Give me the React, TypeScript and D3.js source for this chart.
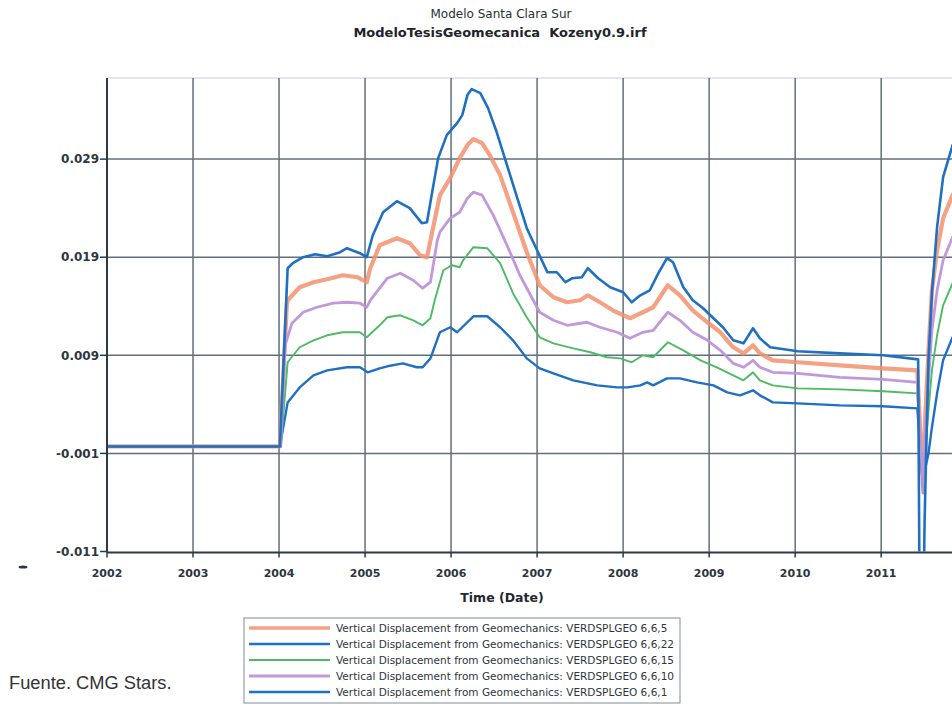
import React from "react";
import * as d3 from "d3";

// Time axis (decimal years) and vertical displacement ticks
const yearTicks = [2002, 2003, 2004, 2005, 2006, 2007, 2008, 2009, 2010, 2011];
const displacementTicks = [0.029, 0.019, 0.009, -0.001, -0.011];

// VERDSPLGEO 6,6,1
const layer1: [number, number][] = [
  [2002.0, -0.00029], [2004.01, -0.00029], [2004.1, 0.01788], [2004.16, 0.01839], [2004.28, 0.019],
  [2004.42, 0.01931], [2004.56, 0.0191], [2004.71, 0.01951], [2004.79, 0.01992], [2004.94, 0.01941],
  [2005.02, 0.019], [2005.09, 0.02124], [2005.21, 0.02359], [2005.37, 0.02471], [2005.52, 0.024],
  [2005.66, 0.02247], [2005.72, 0.02257], [2005.78, 0.02563], [2005.85, 0.0291], [2005.95, 0.03145],
  [2006.07, 0.03267], [2006.13, 0.03349], [2006.19, 0.03553], [2006.24, 0.03614], [2006.34, 0.03573],
  [2006.43, 0.0342], [2006.53, 0.03176], [2006.65, 0.02839], [2006.77, 0.02502], [2006.88, 0.02196],
  [2007.0, 0.01971], [2007.12, 0.01747], [2007.23, 0.01747], [2007.33, 0.01645], [2007.41, 0.01686],
  [2007.52, 0.01696], [2007.59, 0.01788], [2007.71, 0.01686], [2007.85, 0.01594], [2008.0, 0.01543],
  [2008.1, 0.01441], [2008.2, 0.01512], [2008.31, 0.01563], [2008.41, 0.01737], [2008.51, 0.0189],
  [2008.58, 0.01849], [2008.7, 0.01594], [2008.81, 0.01461], [2008.93, 0.0138], [2009.05, 0.01278],
  [2009.16, 0.01186], [2009.28, 0.01053], [2009.4, 0.01022], [2009.51, 0.01176], [2009.59, 0.01073],
  [2009.71, 0.00982], [2010.03, 0.00941], [2010.52, 0.0092], [2011.02, 0.009], [2011.43, 0.00859],
  [2011.445, -0.014], [2011.495, -0.014], [2011.505, -0.00784], [2011.53, 0.00165], [2011.55, 0.00849],
  [2011.59, 0.01533], [2011.65, 0.02206], [2011.72, 0.02716], [2011.83, 0.03043], [2012.02, 0.03256],
];

// VERDSPLGEO 6,6,5
const layer5: [number, number][] = [
  [2002.0, -0.00029], [2004.01, -0.00029], [2004.09, 0.0141], [2004.1, 0.01461], [2004.24, 0.01594],
  [2004.4, 0.01645], [2004.56, 0.01676], [2004.74, 0.01716], [2004.91, 0.01696], [2005.02, 0.01645],
  [2005.06, 0.01788], [2005.17, 0.02022], [2005.37, 0.02094], [2005.52, 0.02043], [2005.64, 0.0192],
  [2005.72, 0.019], [2005.78, 0.02155], [2005.87, 0.02533], [2005.99, 0.02706], [2006.1, 0.0291],
  [2006.19, 0.03043], [2006.26, 0.03104], [2006.36, 0.03063], [2006.45, 0.02941], [2006.57, 0.02737],
  [2006.72, 0.02359], [2006.88, 0.01951], [2007.03, 0.01614], [2007.19, 0.01492], [2007.35, 0.01441],
  [2007.5, 0.01461], [2007.59, 0.01512], [2007.73, 0.01441], [2007.88, 0.01359], [2008.08, 0.01278],
  [2008.23, 0.01339], [2008.35, 0.0139], [2008.52, 0.01614], [2008.66, 0.01512], [2008.81, 0.01359],
  [2008.98, 0.01237], [2009.13, 0.01135], [2009.28, 0.00982], [2009.4, 0.0092], [2009.51, 0.01002],
  [2009.59, 0.0092], [2009.74, 0.00849], [2010.03, 0.00829], [2010.52, 0.00798], [2011.02, 0.00767],
  [2011.42, 0.00747], [2011.49, -0.00498], [2011.51, 0.00237], [2011.55, 0.00949], [2011.59, 0.01561],
  [2011.65, 0.01971], [2011.72, 0.02298], [2011.83, 0.02533], [2012.02, 0.02788],
];

// VERDSPLGEO 6,6,10
const layer10: [number, number][] = [
  [2002.0, -0.00029], [2004.02, -0.00029], [2004.07, 0.01002], [2004.15, 0.01227], [2004.28, 0.01339],
  [2004.44, 0.0139], [2004.63, 0.01431], [2004.79, 0.01441], [2004.94, 0.01431], [2005.02, 0.0139],
  [2005.06, 0.01461], [2005.26, 0.01686], [2005.41, 0.01737], [2005.56, 0.01665], [2005.67, 0.01584],
  [2005.76, 0.01645], [2005.84, 0.02073], [2005.87, 0.02155], [2005.99, 0.02298], [2006.1, 0.02359],
  [2006.19, 0.02502], [2006.26, 0.02563], [2006.36, 0.02533], [2006.49, 0.02329], [2006.65, 0.02022],
  [2006.8, 0.01716], [2007.03, 0.01339], [2007.19, 0.01257], [2007.35, 0.01206], [2007.58, 0.01237],
  [2007.73, 0.01186], [2007.93, 0.01135], [2008.08, 0.01073], [2008.23, 0.01135], [2008.35, 0.01155],
  [2008.52, 0.01339], [2008.66, 0.01257], [2008.81, 0.01135], [2008.98, 0.01053], [2009.13, 0.00951],
  [2009.28, 0.00818], [2009.4, 0.00778], [2009.51, 0.00849], [2009.59, 0.00778], [2009.74, 0.00727],
  [2010.03, 0.00716], [2010.52, 0.00676], [2011.02, 0.00655], [2011.42, 0.00624], [2011.49, -0.00498],
  [2011.51, 0.00033], [2011.55, 0.00645], [2011.59, 0.01155], [2011.65, 0.01561], [2011.72, 0.01869],
  [2011.83, 0.02104], [2012.02, 0.02329],
];

// VERDSPLGEO 6,6,15
const layer15: [number, number][] = [
  [2002.0, -0.00029], [2004.02, -0.00029], [2004.1, 0.00829], [2004.24, 0.00982], [2004.4, 0.01053],
  [2004.56, 0.01104], [2004.74, 0.01135], [2004.94, 0.01135], [2005.02, 0.01084], [2005.17, 0.01206],
  [2005.26, 0.01288], [2005.41, 0.01308], [2005.56, 0.01257], [2005.67, 0.01206], [2005.76, 0.01278],
  [2005.81, 0.01461], [2005.91, 0.01767], [2006.01, 0.01818], [2006.1, 0.01798], [2006.14, 0.01869],
  [2006.26, 0.02002], [2006.42, 0.01992], [2006.57, 0.01839], [2006.72, 0.01533], [2006.88, 0.01288],
  [2007.03, 0.01084], [2007.19, 0.01022], [2007.42, 0.00971], [2007.62, 0.00931], [2007.81, 0.0088],
  [2007.97, 0.00869], [2008.1, 0.00829], [2008.23, 0.009], [2008.35, 0.0088], [2008.52, 0.01033],
  [2008.7, 0.00951], [2008.9, 0.00849], [2009.09, 0.00778], [2009.28, 0.00696], [2009.4, 0.00645],
  [2009.51, 0.00727], [2009.59, 0.00645], [2009.74, 0.00594], [2010.03, 0.00563], [2010.52, 0.00553],
  [2011.02, 0.00533], [2011.42, 0.00512], [2011.49, -0.00498], [2011.51, -0.00121], [2011.55, 0.00339],
  [2011.59, 0.00747], [2011.65, 0.01104], [2011.72, 0.0141], [2011.83, 0.01635], [2012.02, 0.01849],
];

// VERDSPLGEO 6,6,22
const layer22: [number, number][] = [
  [2002.0, -0.00029], [2004.01, -0.00029], [2004.1, 0.0042], [2004.24, 0.00573], [2004.4, 0.00696],
  [2004.56, 0.00747], [2004.79, 0.00778], [2004.94, 0.00778], [2005.03, 0.00727], [2005.17, 0.00767],
  [2005.26, 0.00788], [2005.44, 0.00818], [2005.6, 0.00778], [2005.67, 0.00778], [2005.76, 0.00869],
  [2005.87, 0.01135], [2005.99, 0.01186], [2006.07, 0.01135], [2006.13, 0.01186], [2006.26, 0.01298],
  [2006.42, 0.01298], [2006.57, 0.01186], [2006.72, 0.01053], [2006.88, 0.00869], [2007.03, 0.00767],
  [2007.19, 0.00716], [2007.42, 0.00645], [2007.7, 0.00594], [2007.93, 0.00573], [2008.05, 0.00573],
  [2008.2, 0.00594], [2008.28, 0.00624], [2008.35, 0.00594], [2008.51, 0.00665], [2008.66, 0.00665],
  [2008.86, 0.00624], [2009.05, 0.00594], [2009.21, 0.00522], [2009.36, 0.00492], [2009.51, 0.00543],
  [2009.59, 0.00492], [2009.74, 0.0042], [2010.03, 0.0041], [2010.52, 0.0039], [2011.02, 0.0038],
  [2011.42, 0.00359], [2011.49, -0.00498], [2011.52, -0.00222], [2011.55, -0.001], [2011.59, 0.00165],
  [2011.65, 0.00512], [2011.72, 0.00849], [2011.83, 0.01084], [2012.02, 0.01308],
];

const legendLabels = [
  "Vertical Displacement from Geomechanics: VERDSPLGEO 6,6,5",
  "Vertical Displacement from Geomechanics: VERDSPLGEO 6,6,22",
  "Vertical Displacement from Geomechanics: VERDSPLGEO 6,6,15",
  "Vertical Displacement from Geomechanics: VERDSPLGEO 6,6,10",
  "Vertical Displacement from Geomechanics: VERDSPLGEO 6,6,1",
];

const seriesList = [
  { data: layer5, color: "#f2906f", width: 4.2, opacity: 0.85 },
  { data: layer22, color: "#1f70c2", width: 2.4, opacity: 1 },
  { data: layer15, color: "#4cbb63", width: 1.9, opacity: 1 },
  { data: layer10, color: "#be93d8", width: 2.8, opacity: 0.95 },
  { data: layer1, color: "#1f70c2", width: 2.6, opacity: 1 },
];

const W = 952;
const H = 706;
const plot = { left: 107, right: 993, top: 78, bottom: 551.5 };

const fmt = d3
  .formatLocale({ decimal: ".", thousands: ",", grouping: [3], currency: ["", ""], minus: "-" })
  .format(".3f");

export default function App() {
  const x = d3.scaleLinear().domain([2002, 2012.3]).range([plot.left, plot.right]);
  const y = d3.scaleLinear().domain([-0.011, 0.03727]).range([plot.bottom, plot.top]);
  const line = d3
    .line<[number, number]>()
    .x((d) => x(d[0]))
    .y((d) => y(d[1]));

  const axisColor = "#2c3a45";
  const gridColor = "#5f707c";
  const font = "'DejaVu Sans', Verdana, sans-serif";

  return (
    <svg
      width={W}
      height={H}
      style={{ position: "absolute", left: 0, top: 0, background: "#fff" }}
      fontFamily={font}
    >
      <defs>
        <clipPath id="plotClip">
          <rect x={plot.left} y={plot.top} width={plot.right - plot.left} height={plot.bottom - plot.top} />
        </clipPath>
      </defs>

      {/* Titles */}
      <text x={501} y={18} textAnchor="middle" fontSize={12} fill="#2a2f36">
        Modelo Santa Clara Sur
      </text>
      <text x={500} y={37} textAnchor="middle" fontSize={13} fontWeight="bold" fill="#1e242b">
        ModeloTesisGeomecanica{"\u00a0\u00a0"}Kozeny0.9.irf
      </text>

      {/* Plot frame top */}
      <line x1={plot.left} x2={W} y1={plot.top} y2={plot.top} stroke="#c9cfd4" strokeWidth={1} />

      {/* Grid */}
      {yearTicks.slice(1).map((t) => (
        <line key={"gx" + t} x1={x(t)} x2={x(t)} y1={plot.top} y2={plot.bottom} stroke={gridColor} strokeWidth={1.5} />
      ))}
      {displacementTicks.slice(0, 4).map((t) => (
        <line key={"gy" + t} x1={plot.left} x2={W} y1={y(t)} y2={y(t)} stroke={gridColor} strokeWidth={1.5} />
      ))}

      {/* Series */}
      <g clipPath="url(#plotClip)" fill="none" strokeLinejoin="round" strokeLinecap="round">
        {seriesList.map((s, i) => (
          <path key={i} d={line(s.data) || ""} stroke={s.color} strokeWidth={s.width} strokeOpacity={s.opacity} />
        ))}
      </g>

      {/* Axes */}
      <line x1={plot.left} x2={plot.left} y1={plot.top} y2={plot.bottom + 1} stroke={axisColor} strokeWidth={2} />
      <line x1={plot.left} x2={W} y1={plot.bottom + 1} y2={plot.bottom + 1} stroke={axisColor} strokeWidth={2} />

      {displacementTicks.map((t) => (
        <g key={"ty" + t}>
          <line x1={plot.left - 7} x2={plot.left} y1={y(t)} y2={y(t)} stroke={axisColor} strokeWidth={1.5} />
          <text x={plot.left - 8} y={y(t)} dy="0.35em" textAnchor="end" fontSize={12} fontWeight="bold" fill="#2b3640">
            {fmt(t)}
          </text>
        </g>
      ))}
      {yearTicks.map((t) => (
        <g key={"tx" + t}>
          <line x1={x(t)} x2={x(t)} y1={plot.bottom} y2={plot.bottom + 6} stroke={axisColor} strokeWidth={1.5} />
          <text x={x(t)} y={577} textAnchor="middle" fontSize={11} fontWeight="bold" fill="#2b3640">
            {t}
          </text>
        </g>
      ))}

      {/* Small marker at lower left */}
      <ellipse cx={23} cy={567} rx={4.5} ry={1.6} fill="#2b3640" />

      <text x={502} y={602} textAnchor="middle" fontSize={12.5} fontWeight="bold" fill="#1f2730">
        Time (Date)
      </text>

      {/* Legend */}
      <rect x={244} y={618} width={436} height={85} fill="#fff" stroke="#7d8d99" strokeWidth={1} />
      {legendLabels.map((label, i) => {
        const ly = 628 + i * 16;
        const s = seriesList[i];
        return (
          <g key={"lg" + i}>
            <line x1={249} x2={330} y1={ly} y2={ly} stroke={s.color} strokeWidth={Math.min(s.width, 3.5)} strokeOpacity={s.opacity} />
            <text x={336} y={ly} dy="0.35em" fontSize={10.5} fill="#2b3640">
              {label}
            </text>
          </g>
        );
      })}

      {/* Source note */}
      <text x={9} y={689} fontSize={18.3} fill="#333" fontFamily="Arial, 'Liberation Sans', Helvetica, sans-serif">
        Fuente. CMG Stars.
      </text>
    </svg>
  );
}
